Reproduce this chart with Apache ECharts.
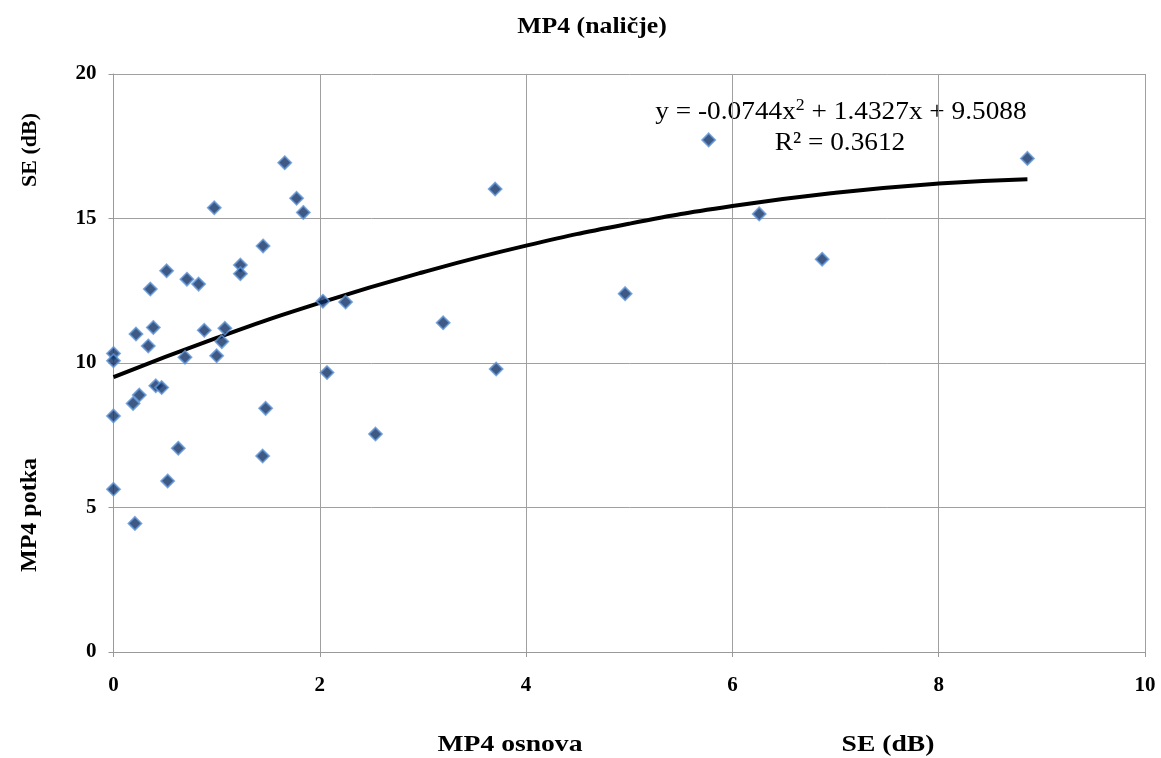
<!DOCTYPE html>
<html><head><meta charset="utf-8">
<script src="https://cdn.jsdelivr.net/npm/echarts@6/dist/echarts.min.js"></script>
<style>html,body{margin:0;padding:0;background:#fff}#c{width:1161px;height:758px}</style>
</head><body><div id="c"></div>
<script>
// Scatter points: x = MP4 osnova SE (dB), y = MP4 potka SE (dB)
const xValues = [1.66,1.775,1.84,0.977,1.45,1.23,1.23,0.515,0.712,0.825,0.357,2.03,2.25,0.218,0.386,0.88,1.08,0.337,1.05,0,0,0.693,1.0,2.07,0.41,0.467,0.25,0.19,0,1.475,0.628,1.446,0.525,0,0.208,3.70,3.196,4.96,3.71,2.54,5.77,8.86,6.26,6.87];
const yValues = [16.93,15.70,15.21,15.37,14.05,13.39,13.09,13.19,12.90,12.73,12.56,12.14,12.11,11.0,11.23,11.13,11.20,10.59,10.74,10.33,10.08,10.20,10.25,9.67,9.21,9.15,8.89,8.60,8.17,8.43,7.05,6.78,5.92,5.63,4.45,16.02,11.39,12.40,9.79,7.54,17.72,17.08,15.16,13.59];
// Polynomial trend line samples
const trendX = [0,1,2,3,4,5,6,7,8,8.86];
const trendY = [9.51,10.87,12.08,13.14,14.06,14.82,15.43,15.89,16.21,16.36];
const xTicks = [0,2,4,6,8,10];
const yTicks = [0,5,10,15,20];
const titleText = 'MP4 (naličje)';
const eqText = 'y = -0.0744x{s|2} + 1.4327x + 9.5088';
const r2Text = 'R² = 0.3612';

const pts = xValues.map((x,i)=>[x,yValues[i]]);
const trend = trendX.map((x,i)=>[x,trendY[i]]);
const font = '"Liberation Serif","DejaVu Serif",serif';

const chart = echarts.init(document.getElementById('c'));
chart.setOption({
  animation:false,
  backgroundColor:'#fff',
  grid:{left:113.5,right:16,top:74,bottom:106},
  xAxis:{type:'value',min:xTicks[0],max:xTicks[xTicks.length-1],interval:2,
    axisLine:{show:true,onZero:false,lineStyle:{color:'#999',width:1}},
    axisTick:{show:true,length:5,lineStyle:{color:'#999'}},
    splitLine:{show:true,lineStyle:{color:'#a0a0a0',width:1}},
    axisLabel:{margin:23,fontFamily:font,fontWeight:'bold',fontSize:21,color:'#000'}},
  yAxis:{type:'value',min:yTicks[0],max:yTicks[yTicks.length-1],interval:5,
    axisLine:{show:true,onZero:false,lineStyle:{color:'#999',width:1}},
    axisTick:{show:true,length:5,lineStyle:{color:'#999'}},
    splitLine:{show:true,lineStyle:{color:'#a0a0a0',width:1}},
    axisLabel:{margin:17,fontFamily:font,fontWeight:'bold',fontSize:21,color:'#000'}},
  series:[
    {type:'line',data:trend,smooth:true,showSymbol:false,z:3,
     lineStyle:{color:'#000',width:4},silent:true},
    {type:'scatter',data:pts,symbol:'diamond',symbolSize:13,z:4,
     itemStyle:{color:'#0f2f66',borderColor:'#5f95d6',borderWidth:1.8}}
  ],
  graphic:[
    {type:'text',x:592,y:27,scaleX:1.12,style:{text:titleText,font:'bold 23px '+font,fill:'#000',textAlign:'center',textVerticalAlign:'middle'}},
    {type:'text',x:841,y:112,scaleX:1.05,style:{text:eqText,font:'26px '+font,fill:'#000',
      textAlign:'center',textVerticalAlign:'middle',
      rich:{s:{fontSize:17,verticalAlign:'top',padding:[0,0,12,0],fontFamily:font}}}},
    {type:'text',x:840,y:143,scaleX:1.05,style:{text:r2Text,font:'26px '+font,fill:'#000',textAlign:'center',textVerticalAlign:'middle'}},
    {type:'text',x:30,y:150,rotation:Math.PI/2,style:{text:'SE (dB)',font:'bold 22px '+font,fill:'#000',textAlign:'center',textVerticalAlign:'middle'}},
    {type:'text',x:30,y:515,rotation:Math.PI/2,style:{text:'MP4 potka',font:'bold 24px '+font,fill:'#000',textAlign:'center',textVerticalAlign:'middle'}},
    {type:'text',x:510,y:745,scaleX:1.15,style:{text:'MP4 osnova',font:'bold 24px '+font,fill:'#000',textAlign:'center',textVerticalAlign:'middle'}},
    {type:'text',x:888,y:745,scaleX:1.15,style:{text:'SE (dB)',font:'bold 24px '+font,fill:'#000',textAlign:'center',textVerticalAlign:'middle'}}
  ]
});
</script></body></html>
